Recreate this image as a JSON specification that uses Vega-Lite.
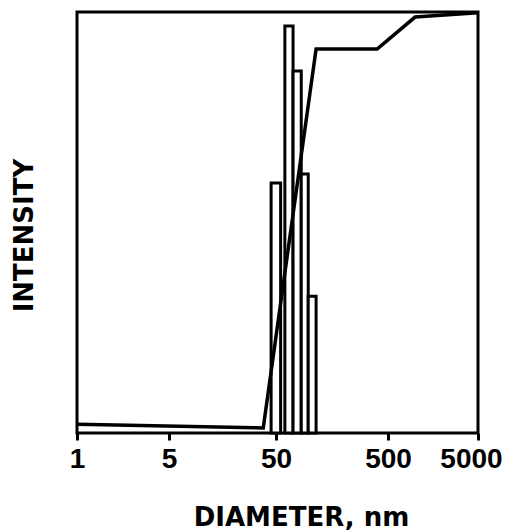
{
  "$schema": "https://vega.github.io/schema/vega-lite/v6.json",
  "width": 401,
  "height": 421,
  "autosize": {"type": "none"},
  "padding": {"left": 77, "top": 12, "right": 34, "bottom": 98},
  "background": "white",
  "config": {
    "view": {"stroke": "black", "strokeWidth": 3},
    "font": "DejaVu Sans"
  },
  "datasets": {
    "bars": [
      {"d_start": 45, "d_end": 55, "intensity": 59.4},
      {"d_start": 60, "d_end": 71, "intensity": 96.7},
      {"d_start": 71, "d_end": 84, "intensity": 86.0},
      {"d_start": 84, "d_end": 97, "intensity": 61.5},
      {"d_start": 97, "d_end": 114, "intensity": 32.5}
    ],
    "curve": [
      {"diameter": 1, "cumulative": 2.1},
      {"diameter": 38, "cumulative": 1.2},
      {"diameter": 114, "cumulative": 91.2},
      {"diameter": 400, "cumulative": 91.2},
      {"diameter": 1000, "cumulative": 98.8},
      {"diameter": 5000, "cumulative": 99.8}
    ]
  },
  "layer": [
    {
      "data": {"name": "bars"},
      "mark": {"type": "rect", "fill": "white", "stroke": "black", "strokeWidth": 3},
      "encoding": {
        "x": {
          "field": "d_start",
          "type": "quantitative",
          "scale": {"type": "log", "domain": [1, 5, 50, 500, 5000], "range": [0, 92, 199, 311, 401], "nice": false},
          "axis": {
            "values": [1, 5, 50, 500, 5000],
            "format": "d",
            "title": "DIAMETER, nm",
            "domain": false,
            "grid": false,
            "tickSize": 7,
            "tickWidth": 3,
            "tickColor": "black",
            "labelFont": "Liberation Sans",
            "labelFontSize": 28,
            "labelFontWeight": "bold",
            "labelColor": "black",
            "labelPadding": 5,
            "labelFlush": false,
            "labelOverlap": false,
            "labelOffset": {"condition": {"test": "datum.value == 5000", "value": -7}, "value": 0},
            "titleFont": "DejaVu Sans",
            "titleFontSize": 26,
            "titleFontWeight": "bold",
            "titleColor": "black",
            "titleX": 224,
            "titleY": 92,
            "titleAlign": "center",
            "titleBaseline": "alphabetic"
          }
        },
        "x2": {"field": "d_end"},
        "y": {
          "field": "intensity",
          "type": "quantitative",
          "scale": {"domain": [0, 100], "nice": false},
          "axis": {
            "title": "INTENSITY",
            "labels": false,
            "ticks": false,
            "domain": false,
            "grid": false,
            "titleFont": "DejaVu Sans",
            "titleFontSize": 26,
            "titleFontWeight": "bold",
            "titleColor": "black",
            "titleX": -45,
            "titleY": 223,
            "titleAlign": "center",
            "titleBaseline": "alphabetic"
          }
        },
        "y2": {"datum": 0}
      }
    },
    {
      "data": {"name": "curve"},
      "mark": {"type": "line", "stroke": "black", "strokeWidth": 3.5},
      "encoding": {
        "x": {"field": "diameter", "type": "quantitative"},
        "y": {"field": "cumulative", "type": "quantitative"}
      }
    }
  ]
}
